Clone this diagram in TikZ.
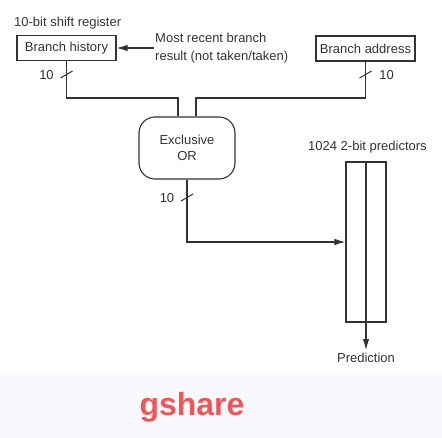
\documentclass[tikz,border=0pt]{standalone}
\usepackage{fontspec}
\setsansfont{Liberation Sans}
\usepackage{xcolor}
\usetikzlibrary{arrows.meta,positioning}
\definecolor{ink}{HTML}{333333}
\definecolor{gsred}{HTML}{F25555}
\definecolor{haze}{HTML}{F7F9FC}

\begin{document}
\begin{tikzpicture}[x=1pt, y=-1pt,
  wire/.style={draw=ink, line width=1.1pt},
  arr/.style={wire, -{Latex[length=11pt,width=6.5pt]}},
  lbl/.style={text=ink, font=\sffamily\fontsize{13}{14}\selectfont, inner sep=1pt},
  block/.style={lbl, rectangle, draw=ink, line width=1.1pt, minimum width=99pt, minimum height=25pt},
  bus/.style={draw=ink, line width=1pt},
]
\useasboundingbox (0,0) rectangle (442,438);
\fill[haze] (0,372) rectangle (442,438);

\node[block] (hist) at (66.5,48) {Branch history};
\node[lbl, anchor=base west] (shreg) at (13,27) {10-bit shift register};
\node[lbl, anchor=west, align=left, font=\sffamily\fontsize{13}{18}\selectfont] (recent) at (154,48) {Most recent branch\\result (not taken/taken)};
\node[block] (addr) at (365.5,48.5) {Branch address};

\node[lbl, draw=ink, line width=1.1pt, rounded corners=16pt, minimum width=96pt, minimum height=62pt,
      align=center, font=\sffamily\fontsize{13}{16}\selectfont] (xor) at (187,148) {Exclusive\\OR};

\node[draw=ink, line width=1.1pt, minimum width=40pt, minimum height=160pt] (pred) at (366,242) {};
\node[lbl, anchor=base west] (predlbl) at (307,151) {1024 2-bit predictors};
\node[lbl, inner sep=3pt] (out) at (366,358) {Prediction};

% Inputs
\coordinate (join) at (0,98);
\draw[arr] (recent.west) -- (hist.east);
\draw[wire] (hist.south) -- (hist.south |- join) -| ([xshift=-9pt]xor.north);
\draw[wire] (addr.south) -- (addr.south |- join) -| ([xshift=9pt]xor.north);

% Index and output
\draw[arr] (xor.south) |- (pred.west);
\draw[arr] (pred.north) -- (out.north);

% Bus widths
\draw[bus] ([shift={(-6pt,-17pt)}]hist.south) -- ++(12pt,7pt);
\node[lbl] at ([shift={(-20pt,-13.5pt)}]hist.south) {10};
\draw[bus] ([shift={(-6pt,-16.5pt)}]addr.south) -- ++(12pt,7pt);
\node[lbl] at ([shift={(21pt,-13pt)}]addr.south) {10};
\draw[bus] ([shift={(-6pt,-21.5pt)}]xor.south) -- ++(12pt,7pt);
\node[lbl] at ([shift={(-20pt,-18pt)}]xor.south) {10};

\node[anchor=base, text=gsred, font=\sffamily\bfseries\fontsize{32}{36}\selectfont] (title) at (192,416) {gshare};
\end{tikzpicture}
\end{document}
